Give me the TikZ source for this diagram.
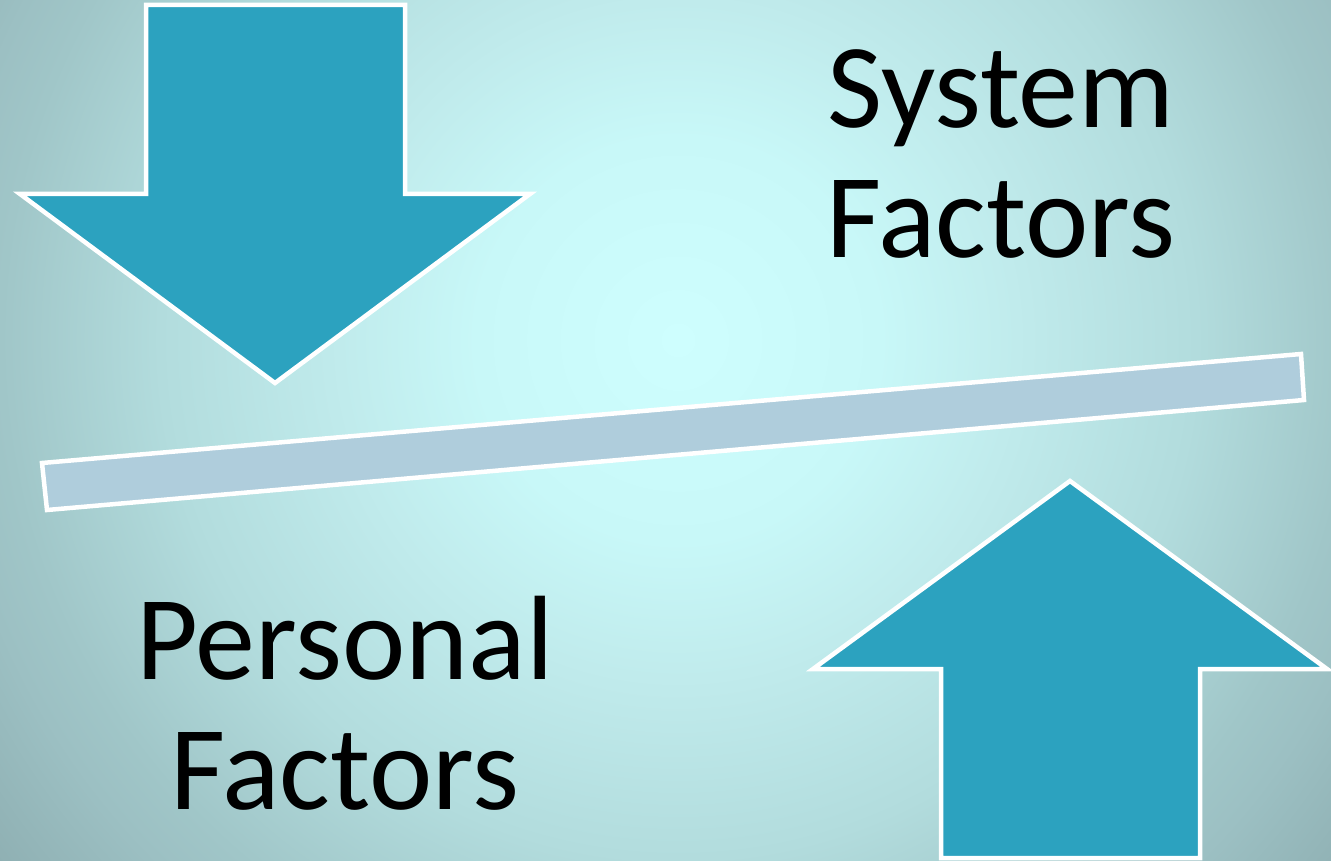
\documentclass[tikz,border=0pt]{standalone}
\usepackage{fontspec}
\setmainfont{Carlito}

\definecolor{arrowfill}{HTML}{2CA2BF}
\definecolor{barfill}{HTML}{AFCDDC}
\definecolor{bgA}{HTML}{CEFEFE}
\definecolor{bgB}{HTML}{C8F8F8}
\definecolor{bgC}{HTML}{C0EBEC}
\definecolor{bgD}{HTML}{B2DCDD}
\definecolor{bgE}{HTML}{A0C6C8}
\definecolor{bgF}{HTML}{9CC0C3}
\definecolor{bgG}{HTML}{8FB0B3}
\definecolor{bgH}{HTML}{8DADB0}

% circular cyan glow; the central 50bp of the shading spans the 1800-unit square,
% so 1bp of shading = 36 units
\pgfdeclareradialshading{backdrop}{\pgfpoint{0bp}{0bp}}{%
  color(0bp)=(bgA); color(5.6bp)=(bgB); color(9.4bp)=(bgC); color(14.4bp)=(bgD);
  color(18.8bp)=(bgE); color(20.4bp)=(bgF); color(23.8bp)=(bgG); color(25bp)=(bgH);
  color(50bp)=(bgH)}

\tikzset{
  blockarrow/.style={fill=arrowfill, draw=white, line width=4.5pt, line join=miter},
  beam/.style={fill=barfill, draw=white, line width=4.5pt},
  label/.style={font=\fontsize{120}{130}\selectfont, align=center, text=black, inner sep=0pt}
}

\begin{document}
\begin{tikzpicture}[x=1pt, y=-1pt]
  \useasboundingbox (0,0) rectangle (1331,861);
  \begin{scope}
    \clip (0,0) rectangle (1331,861);
    \shade[shading=backdrop] (-222,-560) rectangle (1578,1240);
  \end{scope}

  % arrow pressing down from the top
  \draw[blockarrow] (146,5) -- (405,5) -- (405,194) -- (530,194) -- (275,383)
    -- (20,194) -- (146,194) -- cycle;

  % arrow pushing up from the bottom
  \draw[blockarrow] (1070,481) -- (1327,669) -- (1200,669) -- (1200,858)
    -- (941,858) -- (941,669) -- (813,669) -- cycle;

  % tilted beam between the two forces
  \draw[beam] (42,463) -- (1301,354) -- (1304,400) -- (47,510) -- cycle;

  \node[label] (system) at (1001,154) {System\\Factors};
  \node[label] (personal) at (345,703) {Personal\\Factors};
\end{tikzpicture}
\end{document}
